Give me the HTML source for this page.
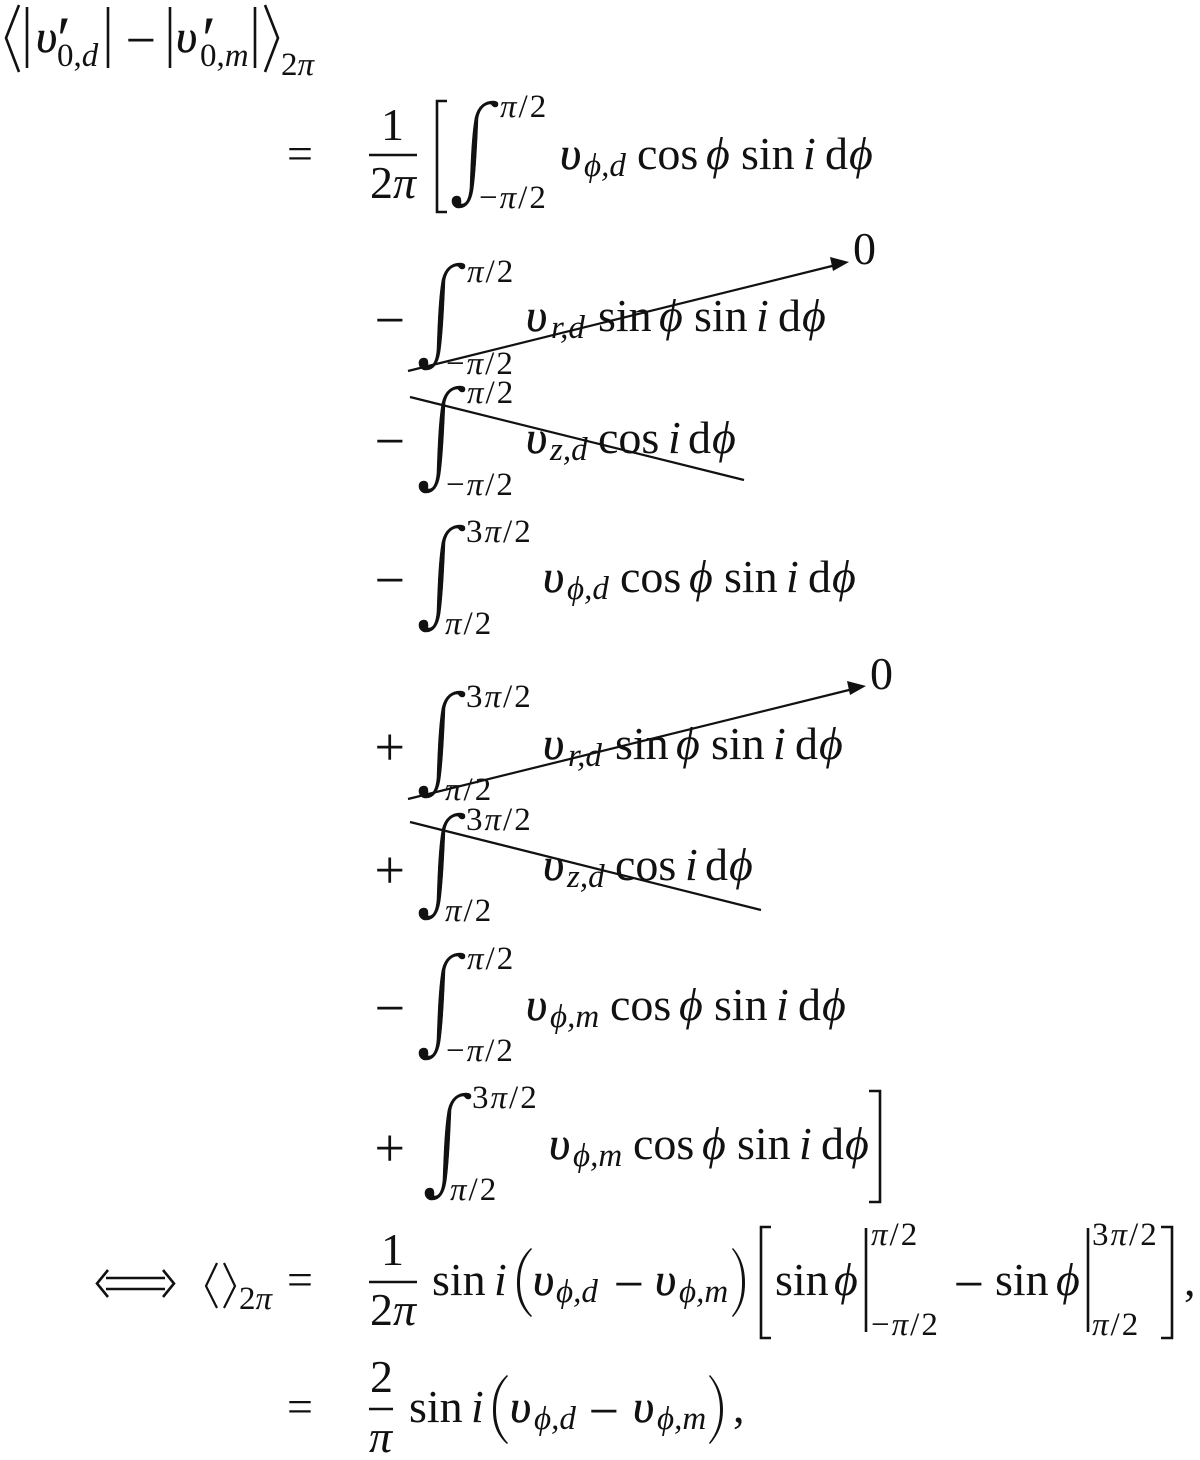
<!DOCTYPE html>
<html><head><meta charset="utf-8"><style>
html,body{margin:0;padding:0;background:#fff}
svg{display:block}
text{font-family:"Liberation Serif","DejaVu Serif",serif;font-size:46px;fill:#111}
.i{font-style:italic}
.u{font-style:italic;stroke:#111;stroke-width:.5}
.m{font-size:54px}
.s{font-size:33px}
.f{font-size:33px;letter-spacing:2px}
.si{font-size:33px;font-style:italic}
.p{font-style:italic}
.pr{font-size:64px;font-style:italic}
.b{fill:none;stroke:#111;stroke-width:2.6}
.l{fill:none;stroke:#111;stroke-width:2.2}
.n{fill:#111}
.t{fill:#111;stroke:#111;stroke-width:.6}
</style></head><body>
<svg width="1200" height="1460" viewBox="0 0 1200 1460" xmlns="http://www.w3.org/2000/svg">
<!-- Row 0 -->
<path class="b" d="M19,5 L6,38 L19,72 M27,7 V68 M108,7 V68 M170,7 V68 M255,7 V68 M265,5 L278,38 L265,72"/>
<text class="u" x="36" y="52">υ</text><text x="53" y="60" class="pr">′</text><text class="s" x="57" y="66">0,<tspan font-style="italic">d</tspan></text>
<text class="m" x="125.5" y="58">−</text>
<text class="u" x="176" y="52">υ</text><text x="198" y="60" class="pr">′</text><text class="s" x="200" y="66">0,<tspan font-style="italic">m</tspan></text>
<text class="s" x="281" y="75">2<tspan class="p">π</tspan></text>

<!-- Row 1 -->
<text x="287" y="169">=</text>
<text x="381" y="140">1</text><path class="b" d="M369,155 H417"/><text x="370" y="198">2<tspan class="p">π</tspan></text>
<path class="b" d="M447,101 H437 V212 H447"/>
<path class="t" transform="translate(451,100)" d="M1,101 C1,98 3,96 6,96 C9,96 10,98 10,101 C10,103 9,104 11,104 C15,104 18,99 19,88 C20,60 21,35 24,18 C27,5 35,1 42,1 C45,1 47,2 47,4 C47,6 46,7 44,7 C42,7 41,5 40,4 C35,4 29,7 27,18 C26,40 25,70 22,90 C20,102 15,108 8,108 C4,108 1,105 1,101 Z"/>
<text class="f" x="500" y="117"><tspan class="p">π</tspan>/2</text><text class="f" x="479" y="208">−<tspan class="p">π</tspan>/2</text>
<text class="u" x="560" y="169">υ</text><text class="si" x="584" y="176">ϕ,d</text>
<text x="637" y="169">cos</text><text class="i" x="706" y="169">ϕ</text><text x="741" y="169">sin</text><text class="i" x="803" y="169">i</text><text x="825" y="169">d</text><text class="i" x="849" y="169">ϕ</text>

<!-- Row 2 -->
<text class="m" x="374.5" y="338">−</text>
<path class="t" transform="translate(418,262)" d="M1,101 C1,98 3,96 6,96 C9,96 10,98 10,101 C10,103 9,104 11,104 C15,104 18,99 19,88 C20,60 21,35 24,18 C27,5 35,1 42,1 C45,1 47,2 47,4 C47,6 46,7 44,7 C42,7 41,5 40,4 C35,4 29,7 27,18 C26,40 25,70 22,90 C20,102 15,108 8,108 C4,108 1,105 1,101 Z"/>
<text class="f" x="467" y="282"><tspan class="p">π</tspan>/2</text><text class="f" x="446" y="374">−<tspan class="p">π</tspan>/2</text>
<text class="u" x="526" y="331">υ</text><text class="si" x="551" y="338">r,d</text>
<text x="598" y="331">sin</text><text class="i" x="659" y="331">ϕ</text><text x="694" y="331">sin</text><text class="i" x="756" y="331">i</text><text x="778" y="331">d</text><text class="i" x="802" y="331">ϕ</text>
<path class="l" d="M408,371 L836,265"/><path class="n" d="M849,262 L830,257 L833,271 Z"/>
<text x="853" y="264">0</text>

<!-- Row 3 -->
<text class="m" x="374.5" y="459">−</text>
<path class="t" transform="translate(418,385)" d="M1,101 C1,98 3,96 6,96 C9,96 10,98 10,101 C10,103 9,104 11,104 C15,104 18,99 19,88 C20,60 21,35 24,18 C27,5 35,1 42,1 C45,1 47,2 47,4 C47,6 46,7 44,7 C42,7 41,5 40,4 C35,4 29,7 27,18 C26,40 25,70 22,90 C20,102 15,108 8,108 C4,108 1,105 1,101 Z"/>
<text class="f" x="467" y="403"><tspan class="p">π</tspan>/2</text><text class="f" x="446" y="495">−<tspan class="p">π</tspan>/2</text>
<text class="u" x="526" y="453">υ</text><text class="si" x="550" y="460">z,d</text>
<text x="598" y="453">cos</text><text class="i" x="668" y="453">i</text><text x="688" y="453">d</text><text class="i" x="712" y="453">ϕ</text>
<path class="l" d="M410,397 L744,480"/>

<!-- Row 4 -->
<text class="m" x="374.5" y="598">−</text>
<path class="t" transform="translate(418,524)" d="M1,101 C1,98 3,96 6,96 C9,96 10,98 10,101 C10,103 9,104 11,104 C15,104 18,99 19,88 C20,60 21,35 24,18 C27,5 35,1 42,1 C45,1 47,2 47,4 C47,6 46,7 44,7 C42,7 41,5 40,4 C35,4 29,7 27,18 C26,40 25,70 22,90 C20,102 15,108 8,108 C4,108 1,105 1,101 Z"/>
<text class="f" x="466" y="542">3<tspan class="p">π</tspan>/2</text><text class="f" x="445" y="634"><tspan class="p">π</tspan>/2</text>
<text class="u" x="543" y="592">υ</text><text class="si" x="567" y="599">ϕ,d</text>
<text x="620" y="592">cos</text><text class="i" x="689" y="592">ϕ</text><text x="724" y="592">sin</text><text class="i" x="786" y="592">i</text><text x="808" y="592">d</text><text class="i" x="832" y="592">ϕ</text>

<!-- Row 5 -->
<text class="m" x="374.5" y="765">+</text>
<path class="t" transform="translate(418,690)" d="M1,101 C1,98 3,96 6,96 C9,96 10,98 10,101 C10,103 9,104 11,104 C15,104 18,99 19,88 C20,60 21,35 24,18 C27,5 35,1 42,1 C45,1 47,2 47,4 C47,6 46,7 44,7 C42,7 41,5 40,4 C35,4 29,7 27,18 C26,40 25,70 22,90 C20,102 15,108 8,108 C4,108 1,105 1,101 Z"/>
<text class="f" x="466" y="707">3<tspan class="p">π</tspan>/2</text><text class="f" x="445" y="800"><tspan class="p">π</tspan>/2</text>
<text class="u" x="543" y="759">υ</text><text class="si" x="568" y="766">r,d</text>
<text x="615" y="759">sin</text><text class="i" x="676" y="759">ϕ</text><text x="711" y="759">sin</text><text class="i" x="773" y="759">i</text><text x="795" y="759">d</text><text class="i" x="819" y="759">ϕ</text>
<path class="l" d="M408,799 L853,689"/><path class="n" d="M866,686 L847,681 L850,695 Z"/>
<text x="870" y="689">0</text>

<!-- Row 6 -->
<text class="m" x="374.5" y="888">+</text>
<path class="t" transform="translate(418,812)" d="M1,101 C1,98 3,96 6,96 C9,96 10,98 10,101 C10,103 9,104 11,104 C15,104 18,99 19,88 C20,60 21,35 24,18 C27,5 35,1 42,1 C45,1 47,2 47,4 C47,6 46,7 44,7 C42,7 41,5 40,4 C35,4 29,7 27,18 C26,40 25,70 22,90 C20,102 15,108 8,108 C4,108 1,105 1,101 Z"/>
<text class="f" x="466" y="830">3<tspan class="p">π</tspan>/2</text><text class="f" x="445" y="921"><tspan class="p">π</tspan>/2</text>
<text class="u" x="543" y="880">υ</text><text class="si" x="567" y="887">z,d</text>
<text x="615" y="880">cos</text><text class="i" x="685" y="880">i</text><text x="705" y="880">d</text><text class="i" x="729" y="880">ϕ</text>
<path class="l" d="M410,822 L761,910"/>

<!-- Row 7 -->
<text class="m" x="374.5" y="1026">−</text>
<path class="t" transform="translate(418,952)" d="M1,101 C1,98 3,96 6,96 C9,96 10,98 10,101 C10,103 9,104 11,104 C15,104 18,99 19,88 C20,60 21,35 24,18 C27,5 35,1 42,1 C45,1 47,2 47,4 C47,6 46,7 44,7 C42,7 41,5 40,4 C35,4 29,7 27,18 C26,40 25,70 22,90 C20,102 15,108 8,108 C4,108 1,105 1,101 Z"/>
<text class="f" x="467" y="969"><tspan class="p">π</tspan>/2</text><text class="f" x="446" y="1061">−<tspan class="p">π</tspan>/2</text>
<text class="u" x="526" y="1020">υ</text><text class="si" x="550" y="1027">ϕ,m</text>
<text x="610" y="1020">cos</text><text class="i" x="679" y="1020">ϕ</text><text x="714" y="1020">sin</text><text class="i" x="776" y="1020">i</text><text x="798" y="1020">d</text><text class="i" x="822" y="1020">ϕ</text>

<!-- Row 8 -->
<text class="m" x="374.5" y="1166">+</text>
<path class="t" transform="translate(424,1092)" d="M1,101 C1,98 3,96 6,96 C9,96 10,98 10,101 C10,103 9,104 11,104 C15,104 18,99 19,88 C20,60 21,35 24,18 C27,5 35,1 42,1 C45,1 47,2 47,4 C47,6 46,7 44,7 C42,7 41,5 40,4 C35,4 29,7 27,18 C26,40 25,70 22,90 C20,102 15,108 8,108 C4,108 1,105 1,101 Z"/>
<text class="f" x="472" y="1108">3<tspan class="p">π</tspan>/2</text><text class="f" x="450" y="1200"><tspan class="p">π</tspan>/2</text>
<text class="u" x="549" y="1159">υ</text><text class="si" x="573" y="1166">ϕ,m</text>
<text x="633" y="1159">cos</text><text class="i" x="702" y="1159">ϕ</text><text x="737" y="1159">sin</text><text class="i" x="799" y="1159">i</text><text x="821" y="1159">d</text><text class="i" x="845" y="1159">ϕ</text>
<path class="b" d="M869,1091 H880 V1202 H869"/>

<!-- Row 9 -->
<path class="b" d="M106,1278 H165 M106,1289 H165 M108,1270 L97,1283.5 L108,1297 M163,1270 L174,1283.5 L163,1297"/>
<path class="l" d="M217,1263 L206,1286 L217,1308 M224,1263 L235,1286 L224,1308"/>
<text class="s" x="239" y="1309">2<tspan class="p">π</tspan></text>
<text x="287" y="1295">=</text>
<text x="381" y="1265">1</text><path class="b" d="M369,1282 H417"/><text x="370" y="1325">2<tspan class="p">π</tspan></text>
<text x="432" y="1295">sin</text><text class="i" x="494" y="1295">i</text>
<path class="n" d="M531,1248 C520,1258 517,1270 517,1283 C517,1296 520,1307 531,1317 L532,1316 C523,1306 520,1295 520,1283 C520,1270 523,1259 532,1249 Z"/>
<text class="u" x="533" y="1295">υ</text><text class="si" x="556" y="1302">ϕ,d</text>
<text class="m" x="613.5" y="1302">−</text>
<text class="u" x="655" y="1295">υ</text><text class="si" x="679" y="1302">ϕ,m</text>
<path class="n" d="M733,1248 C742,1258 745,1270 745,1283 C745,1296 742,1307 733,1317 L732,1316 C740,1306 742,1295 742,1283 C742,1270 740,1259 732,1249 Z"/>
<path class="b" d="M771,1227 H761 V1338 H771"/>
<text x="775" y="1295">sin</text><text class="i" x="834" y="1295">ϕ</text>
<path class="b" d="M866,1228 V1332"/>
<text class="f" x="871" y="1245"><tspan class="p">π</tspan>/2</text><text class="f" x="871" y="1335">−<tspan class="p">π</tspan>/2</text>
<text class="m" x="953.5" y="1302">−</text>
<text x="995" y="1295">sin</text><text class="i" x="1056" y="1295">ϕ</text>
<path class="b" d="M1088,1228 V1332"/>
<text class="f" x="1092" y="1245">3<tspan class="p">π</tspan>/2</text><text class="f" x="1092" y="1335"><tspan class="p">π</tspan>/2</text>
<path class="b" d="M1161,1227 H1172 V1338 H1161"/>
<text x="1184" y="1295">,</text>

<!-- Row 10 -->
<text x="287" y="1422">=</text>
<text x="370" y="1392">2</text><path class="b" d="M369,1409 H393"/><text x="369" y="1452" class="p">π</text>
<text x="409" y="1422">sin</text><text class="i" x="471" y="1422">i</text>
<path class="n" d="M507,1375 C496,1385 493,1397 493,1410 C493,1423 496,1434 507,1444 L508,1443 C499,1433 496,1422 496,1410 C496,1397 499,1386 508,1376 Z"/>
<text class="u" x="510" y="1422">υ</text><text class="si" x="534" y="1429">ϕ,d</text>
<text class="m" x="588.5" y="1429">−</text>
<text class="u" x="633" y="1422">υ</text><text class="si" x="657" y="1429">ϕ,m</text>
<path class="n" d="M710,1375 C719,1385 723,1397 723,1410 C723,1423 719,1434 710,1444 L709,1443 C717,1433 720,1422 720,1410 C720,1397 717,1386 709,1376 Z"/>
<text x="733" y="1422">,</text>
</svg>
</body></html>
